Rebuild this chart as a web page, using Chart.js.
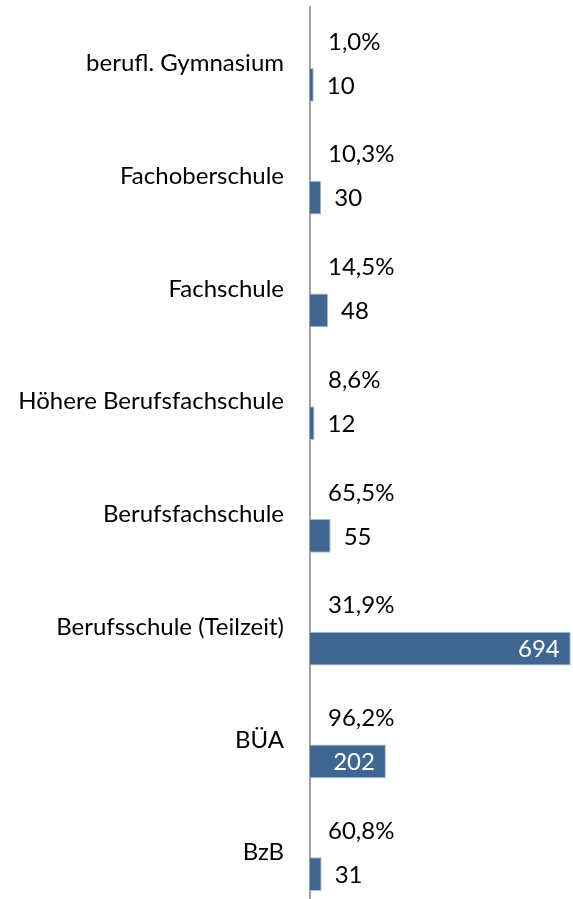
<!DOCTYPE html>
<html>
<head>
<meta charset="utf-8">
<script src="https://cdn.jsdelivr.net/npm/chart.js@4/dist/chart.umd.min.js"></script>
<style>
  html, body { margin: 0; padding: 0; background: #fff; overflow: hidden; }
  #wrap { position: relative; width: 573px; height: 909px; }
</style>
</head>
<body>
<div id="wrap"><canvas id="c"></canvas></div>
<script>
const categories = [
  "berufl. Gymnasium",
  "Fachoberschule",
  "Fachschule",
  "Höhere Berufsfachschule",
  "Berufsfachschule",
  "Berufsschule (Teilzeit)",
  "BÜA",
  "BzB"
];
const shares = [1.0, 10.3, 14.5, 8.6, 65.5, 31.9, 96.2, 60.8];
const counts = [10, 30, 48, 12, 55, 694, 202, 31];

const FONT = "Lato, 'Open Sans', sans-serif";
const FSIZE = 24;

const labelPlugin = {
  id: 'labels',
  afterDatasetsDraw(chart) {
    const ctx = chart.ctx;
    const left = chart.chartArea.left;
    ctx.save();
    ctx.font = FSIZE + "px " + FONT;
    ctx.textBaseline = 'middle';
    chart.getDatasetMeta(0).data.forEach((bar, i) => {
      ctx.fillStyle = '#000';
      ctx.textAlign = 'left';
      ctx.fillText(shares[i].toFixed(1).replace('.', ',') + '%', left + 18, bar.y);
    });
    chart.getDatasetMeta(1).data.forEach((bar, i) => {
      const w = bar.x - left;
      const txt = String(counts[i]);
      if (w > 50) {
        ctx.fillStyle = '#fff';
        ctx.textAlign = 'right';
        ctx.fillText(txt, bar.x - 11, bar.y + 1);
      } else {
        ctx.fillStyle = '#000';
        ctx.textAlign = 'left';
        ctx.fillText(txt, bar.x + 13, bar.y + 1);
      }
    });
    ctx.restore();
  }
};

new Chart(document.getElementById('c'), {
  type: 'bar',
  data: {
    labels: categories,
    datasets: [
      {
        label: 'Anteil',
        data: shares,
        xAxisID: 'x2',
        backgroundColor: 'rgba(0,0,0,0)',
        borderWidth: 0,
        categoryPercentage: 0.763,
        barPercentage: 0.79
      },
      {
        label: 'Anzahl',
        data: counts,
        xAxisID: 'x',
        backgroundColor: '#3F6792',
        borderColor: '#A7BACE',
        borderWidth: 1,
        borderSkipped: 'start',
        categoryPercentage: 0.763,
        barPercentage: 0.79
      }
    ]
  },
  options: {
    indexAxis: 'y',
    responsive: true,
    maintainAspectRatio: false,
    animation: false,
    layout: { padding: { top: 7, right: 0, bottom: 0, left: 0 } },
    plugins: {
      legend: { display: false },
      tooltip: { enabled: false }
    },
    scales: {
      x: {
        display: false,
        min: 0,
        max: 700,
        grid: { display: false }
      },
      x2: {
        display: false,
        min: 0,
        max: 100000,
        grid: { display: false }
      },
      y: {
        grid: { display: false, drawTicks: false },
        border: { display: true, color: '#A0A0A0', width: 2 },
        ticks: {
          color: '#000',
          padding: 26,
          font: { family: FONT, size: FSIZE }
        },
        afterFit(scale) {
          scale.width = 310;
          scale.paddingTop = 0;
          scale.paddingBottom = 0;
        }
      }
    }
  },
  plugins: [labelPlugin]
});
</script>
</body>
</html>
